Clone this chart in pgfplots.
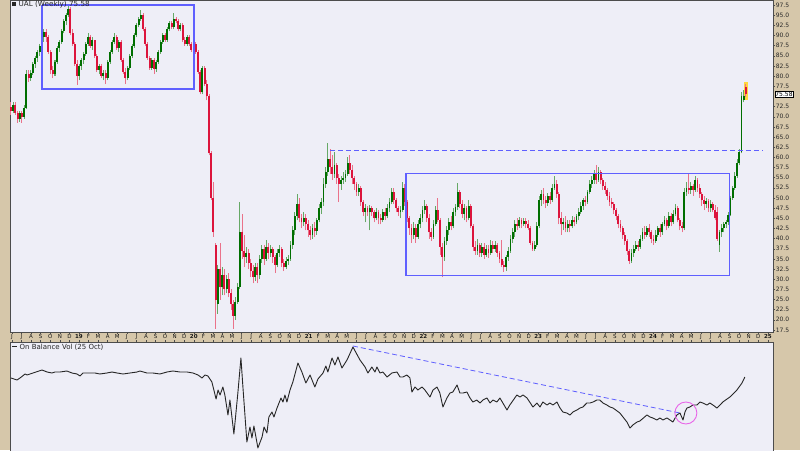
\documentclass[border=0pt]{standalone}
\usepackage{pgfplots}
\pgfplotsset{compat=1.18}
\usepackage{pgfplotstable}
\usepackage{fontspec}
\setmainfont{DejaVu Sans}
\definecolor{beige}{RGB}{214,199,170}
\definecolor{panel}{RGB}{238,238,247}
\definecolor{upc}{RGB}{0,110,0}
\definecolor{dnc}{RGB}{220,20,60}
\definecolor{boxc}{RGB}{95,95,255}
\definecolor{circc}{RGB}{232,100,232}
\definecolor{glow}{RGB}{255,215,60}

\pgfplotstableread{
i o h l c
0 72.5 73.5 70.5 71.5
1 71.5 73.5 71.0 72.8
2 72.8 73.5 70.5 71.0
3 71.0 71.5 68.5 69.5
4 69.5 71.5 68.8 70.8
5 70.8 71.5 68.5 70.0
6 70.0 72.8 69.5 72.2
7 72.2 81.5 72.0 80.5
8 80.5 81.5 78.5 79.5
9 79.5 81.5 78.8 80.8
10 80.8 83.5 80.2 83.0
11 83.0 85.0 82.0 84.5
12 84.5 86.5 83.5 86.0
13 86.0 88.0 85.0 87.5
14 87.5 90.5 87.0 89.5
15 89.5 91.5 88.5 90.8
16 90.8 91.5 88.5 89.5
17 89.5 90.0 85.5 86.0
18 86.0 86.5 80.5 81.5
19 81.5 82.5 79.5 80.5
20 80.5 84.0 80.0 83.5
21 83.5 87.5 83.0 87.0
22 87.0 89.0 86.0 88.5
23 88.5 91.5 88.0 91.0
24 91.0 94.0 90.5 93.5
25 93.5 95.5 92.5 95.0
26 95.0 97.8 94.5 96.5
27 96.5 97.0 90.0 90.5
28 90.5 91.5 87.5 88.0
29 88.0 88.5 82.5 83.0
30 83.0 84.0 77.8 80.0
31 80.0 83.0 79.0 82.5
32 82.5 84.5 81.5 84.0
33 84.0 86.0 83.0 85.5
34 85.5 88.5 85.0 88.0
35 88.0 90.5 87.5 89.5
36 89.5 90.0 87.0 87.5
37 87.5 89.5 86.5 88.8
38 88.8 89.0 84.5 85.0
39 85.0 85.5 81.0 81.5
40 81.5 83.0 80.5 82.5
41 82.5 83.0 79.5 80.0
42 80.0 81.5 79.0 80.8
43 80.8 81.5 78.0 79.5
44 79.5 84.0 79.0 83.5
45 83.5 86.5 83.0 86.0
46 86.0 89.0 85.5 88.5
47 88.5 90.5 88.0 89.5
48 89.5 90.0 86.5 87.0
49 87.0 89.0 86.0 88.5
50 88.5 89.0 83.5 84.0
51 84.0 84.5 80.5 81.0
52 81.0 82.0 78.0 79.5
53 79.5 82.5 79.0 82.0
54 82.0 85.5 81.5 85.0
55 85.0 88.0 84.5 87.5
56 87.5 90.5 87.0 90.0
57 90.0 93.0 89.5 92.5
58 92.5 94.5 92.0 94.0
59 94.0 96.2 93.5 95.0
60 95.0 95.5 91.0 91.5
61 91.5 92.0 87.5 88.0
62 88.0 88.5 84.0 84.5
63 84.5 85.0 81.5 82.0
64 82.0 84.5 81.5 84.0
65 84.0 84.5 80.5 81.8
66 81.8 84.0 81.0 83.5
67 83.5 86.5 83.0 86.0
68 86.0 89.0 85.5 88.5
69 88.5 90.5 88.0 90.0
70 90.0 90.5 88.5 89.0
71 89.0 92.0 88.5 91.5
72 91.5 93.5 91.0 93.0
73 93.0 93.5 91.5 92.0
74 92.0 95.5 91.5 94.0
75 94.0 94.5 93.0 93.5
76 93.5 94.0 91.0 91.5
77 91.5 93.0 91.0 92.5
78 92.5 93.0 88.5 89.0
79 89.0 89.5 87.5 88.0
80 88.0 90.0 87.5 89.5
81 89.5 90.0 87.5 88.0
82 88.0 88.5 86.0 86.5
83 86.5 88.5 86.0 88.0
84 88.0 88.5 85.5 86.0
85 86.0 86.5 80.5 81.0
86 81.0 81.5 75.5 76.0
87 76.0 82.5 75.5 82.0
88 82.0 82.5 77.5 78.0
89 78.0 79.0 74.0 75.0
90 75.0 75.5 60.5 61.0
91 61.0 61.5 49.5 50.0
92 50.0 54.0 40.5 41.5
93 38.5 39.0 17.8 25.0
94 24.0 33.5 21.5 32.5
95 32.5 39.0 25.0 28.0
96 28.0 33.0 26.0 31.0
97 31.0 32.5 26.0 27.5
98 27.5 31.0 26.5 30.0
99 30.0 31.5 25.5 26.5
100 26.5 27.5 22.5 24.0
101 24.0 24.8 17.8 21.0
102 21.0 25.5 20.0 24.5
103 24.5 29.0 24.0 28.0
104 28.0 49.0 27.5 41.5
105 41.5 46.0 35.0 37.0
106 37.0 41.0 33.0 35.5
107 35.5 38.0 34.0 36.5
108 36.5 37.5 32.5 34.0
109 34.0 35.0 30.5 32.0
110 32.0 33.5 29.0 30.5
111 30.5 34.0 29.5 33.0
112 33.0 34.0 29.0 31.0
113 31.0 36.0 30.0 35.0
114 35.0 38.5 34.0 37.5
115 37.5 38.5 33.5 35.0
116 35.0 39.7 34.5 38.0
117 38.0 39.0 35.0 36.5
118 36.5 38.5 35.5 37.5
119 37.5 38.0 34.0 35.5
120 35.5 36.0 31.5 33.5
121 33.5 37.5 33.0 36.5
122 36.5 38.5 35.5 37.5
123 37.5 38.0 33.0 34.0
124 34.0 35.0 32.0 33.0
125 33.0 35.5 32.5 34.5
126 34.5 36.0 33.5 35.0
127 35.0 39.5 34.5 38.5
128 38.5 43.0 37.5 42.0
129 42.0 46.5 41.0 45.5
130 45.5 51.0 44.5 48.5
131 48.5 50.0 44.0 45.0
132 45.0 46.0 42.5 44.0
133 44.0 46.5 43.0 45.0
134 45.0 46.0 42.0 43.5
135 43.5 44.5 40.5 42.0
136 42.0 43.0 39.7 41.0
137 41.0 43.5 40.0 42.5
138 42.5 44.0 40.5 41.8
139 41.8 45.0 41.0 44.5
140 44.5 48.5 44.0 47.5
141 47.5 50.0 46.0 49.0
142 49.0 55.0 48.0 53.5
143 53.5 57.5 52.5 56.5
144 56.5 63.5 55.5 59.5
145 59.5 62.0 56.0 57.5
146 57.5 60.5 54.5 56.0
147 56.0 61.3 55.0 58.0
148 58.0 58.5 53.5 55.0
149 55.0 56.0 49.0 53.5
150 53.5 55.5 52.0 54.5
151 54.5 56.5 53.5 55.0
152 55.0 57.0 54.0 56.0
153 56.0 60.0 55.5 58.5
154 58.5 60.5 56.0 57.0
155 57.0 58.0 53.5 55.0
156 55.0 55.5 52.0 53.5
157 53.5 54.0 50.5 51.5
158 51.5 53.5 50.5 52.5
159 52.5 53.0 48.0 49.0
160 49.0 49.5 45.5 46.5
161 46.5 48.5 44.0 47.5
162 47.5 48.0 45.5 46.5
163 46.5 48.2 42.0 47.5
164 47.5 48.0 45.5 46.5
165 46.5 47.0 44.0 45.0
166 45.0 47.5 44.5 46.5
167 46.5 47.0 43.5 45.0
168 45.0 46.0 43.5 44.6
169 44.6 47.2 44.0 46.5
170 46.5 47.5 44.5 45.5
171 45.5 48.5 45.0 47.5
172 47.5 50.0 46.5 49.0
173 49.0 52.5 48.5 51.5
174 51.5 52.5 48.5 49.5
175 49.5 50.0 46.5 47.5
176 47.5 48.0 45.5 46.5
177 46.5 48.0 45.0 47.0
178 47.0 54.0 46.5 52.5
179 52.5 53.5 48.0 49.0
180 49.0 49.5 44.0 45.0
181 45.0 45.5 41.0 42.5
182 42.5 43.5 39.0 41.0
183 41.0 44.0 40.0 42.5
184 42.5 43.5 39.0 40.5
185 40.5 44.5 40.0 43.5
186 43.5 46.0 42.5 45.0
187 45.0 48.0 44.0 47.0
188 47.0 49.5 46.0 48.0
189 48.0 48.5 44.0 45.0
190 45.0 46.0 40.0 41.5
191 41.5 42.5 39.5 40.5
192 40.5 44.5 40.0 43.5
193 43.5 48.0 43.0 47.0
194 47.0 50.0 44.0 44.5
195 44.5 45.0 36.0 38.0
196 38.0 39.0 30.5 35.5
197 35.5 40.5 34.5 39.5
198 39.5 43.0 38.5 42.0
199 42.0 45.0 41.0 44.0
200 44.0 45.5 42.0 43.0
201 43.0 47.5 42.5 46.5
202 46.5 48.5 45.5 47.8
203 47.8 53.7 47.0 51.5
204 51.5 52.0 47.5 48.5
205 48.5 49.5 45.0 46.0
206 46.0 48.5 44.5 47.5
207 47.5 48.0 44.0 45.0
208 45.0 49.5 44.5 48.0
209 48.0 48.5 42.5 43.0
210 43.0 43.5 37.0 38.0
211 38.0 39.5 36.0 37.0
212 37.0 40.0 36.0 38.5
213 38.5 39.0 35.5 36.5
214 36.5 39.0 35.5 38.0
215 38.0 38.8 35.0 36.0
216 36.0 38.5 35.5 37.5
217 37.5 38.5 35.2 36.5
218 36.5 39.7 36.0 38.5
219 38.5 39.5 36.5 37.5
220 37.5 39.5 36.8 38.5
221 38.5 39.0 35.5 36.5
222 36.5 37.0 34.0 35.0
223 35.0 39.7 33.0 33.5
224 33.5 34.5 31.8 33.0
225 33.0 36.0 32.0 35.5
226 35.5 38.0 34.5 37.0
227 37.0 40.8 36.5 40.0
228 40.0 42.5 39.0 41.5
229 41.5 44.5 40.5 43.5
230 43.5 45.0 42.0 43.0
231 43.0 45.2 42.5 44.5
232 44.5 45.0 42.5 43.5
233 43.5 45.0 43.0 44.3
234 44.3 45.0 42.5 43.5
235 43.5 44.5 42.0 42.5
236 42.5 43.0 38.5 39.0
237 39.0 39.5 37.0 37.5
238 37.5 39.5 37.0 38.5
239 38.5 44.0 38.0 43.0
240 43.0 50.5 42.5 49.5
241 49.5 52.0 48.0 51.0
242 51.0 52.5 48.5 49.5
243 49.5 50.5 47.5 48.8
244 48.8 51.2 48.0 50.5
245 50.5 51.5 48.5 49.5
246 49.5 53.5 49.0 52.5
247 52.5 55.5 52.0 53.5
248 53.5 54.5 50.0 51.0
249 51.0 51.5 43.5 45.0
250 45.0 46.5 41.0 43.5
251 43.5 45.0 42.0 44.0
252 44.0 45.5 41.5 42.5
253 42.5 44.5 41.5 43.5
254 43.5 44.5 41.5 43.0
255 43.0 45.5 42.5 44.5
256 44.5 45.2 43.0 44.0
257 44.0 46.0 43.5 45.5
258 45.5 47.5 44.5 46.5
259 46.5 49.0 46.0 48.0
260 48.0 50.0 47.0 49.5
261 49.5 50.5 48.0 49.0
262 49.0 52.0 48.5 51.5
263 51.5 54.5 51.0 53.5
264 53.5 55.5 52.5 54.5
265 54.5 57.0 53.5 56.0
266 56.0 58.1 53.5 54.5
267 54.5 57.5 54.0 56.5
268 56.5 57.0 53.5 54.5
269 54.5 55.0 52.0 53.0
270 53.0 54.0 51.0 52.0
271 52.0 52.5 49.5 50.5
272 50.5 51.5 48.0 49.0
273 49.0 50.0 47.5 48.5
274 48.5 49.0 46.0 47.0
275 47.0 47.5 44.5 45.5
276 45.5 46.0 42.5 43.5
277 43.5 44.5 41.5 42.5
278 42.5 43.0 40.0 41.0
279 41.0 41.5 38.5 39.5
280 39.5 40.0 36.0 37.0
281 37.0 37.5 33.8 34.5
282 34.5 37.5 34.0 36.5
283 36.5 38.5 35.5 37.5
284 37.5 39.5 37.0 38.5
285 38.5 39.5 37.0 38.0
286 38.0 41.0 37.5 40.0
287 40.0 42.5 39.5 41.5
288 41.5 43.0 40.0 41.0
289 41.0 43.0 40.5 42.5
290 42.5 43.5 40.5 41.5
291 41.5 42.0 38.9 40.0
292 40.0 41.0 38.5 39.5
293 39.5 42.0 39.0 41.0
294 41.0 43.0 40.5 42.5
295 42.5 43.5 40.5 41.5
296 41.5 44.0 41.0 43.5
297 43.5 45.5 43.0 44.5
298 44.5 45.0 42.0 43.0
299 43.0 46.5 42.5 45.5
300 45.5 46.3 43.0 44.0
301 44.0 47.0 43.5 46.0
302 46.0 48.5 45.5 47.5
303 47.5 48.0 44.0 44.5
304 44.5 45.0 42.0 43.0
305 43.0 44.0 41.5 42.5
306 42.5 52.5 42.0 51.5
307 51.5 54.0 50.5 52.5
308 52.5 56.0 51.0 52.0
309 52.0 54.0 51.0 53.0
310 53.0 53.5 50.5 52.0
311 52.0 55.5 51.5 54.5
312 54.5 55.0 51.5 52.5
313 52.5 53.5 50.0 51.0
314 51.0 51.5 48.0 49.5
315 49.5 50.5 47.0 48.5
316 48.5 50.0 47.5 49.3
317 49.3 49.8 46.5 47.5
318 47.5 49.5 46.5 48.5
319 48.5 49.0 46.5 47.0
320 47.0 48.3 44.5 45.0
321 46.5 47.8 39.5 40.0
322 38.5 42.0 36.7 41.5
323 41.5 43.5 40.5 42.5
324 42.5 44.0 41.5 43.5
325 43.5 44.5 42.5 44.0
326 44.0 46.5 43.4 45.8
327 45.8 50.5 45.5 50.0
328 50.0 53.0 49.5 52.5
329 52.5 56.5 52.0 55.5
330 55.5 59.5 55.0 58.5
331 58.5 62.0 58.0 61.3
332 61.3 76.0 61.0 75.0
333 74.0 76.5 73.5 75.2
334 77.2 78.0 74.8 75.58
}\candles

\pgfplotstableread{
i v
0 74
2.7 72
4.1 74
6.4 78
7.3 77
10.0 79
14.1 82
16.4 80
18.6 79
20.0 80
22.3 80
25.4 81
27.7 79
30.0 78
31.4 76
32.7 79
35.9 79
38.2 79
40.4 78
43.6 79
45.9 80
48.2 79
50.9 78
54.1 79
57.3 80
58.6 81
61.8 79
64.5 79
67.7 78
70.9 80
73.6 81
76.8 80
80.0 80
82.7 79
85.0 77
86.8 74
88.2 77
89.5 76
91.3 70
93.2 53
94.1 62
95.0 57
96.3 65
97.2 57
98.6 37
99.5 52
101.3 18
103.1 59
104.5 94
105.4 65
107.2 10
108.6 25
109.5 14
110.4 26
111.8 9
112.2 4
114.1 15
115.0 25
116.3 19
117.2 35
118.6 40
119.5 35
120.9 44
121.8 49
122.7 54
123.6 50
124.5 57
125.4 50
126.8 62
128.1 70
130.4 89
132.2 80
134.0 69
135.9 77
138.1 65
139.5 73
141.8 79
143.1 86
144.0 80
145.9 94
147.2 87
148.6 95
150.4 84
152.7 92
155.4 105
158.6 92
160.9 85
162.2 79
164.0 85
165.4 80
166.3 85
167.7 79
169.0 80
170.9 75
173.1 79
175.4 80
176.8 75
178.1 75
179.9 77
181.3 74
182.2 60
183.6 65
184.9 62
186.8 65
188.1 62
190.4 55
191.8 62
193.6 65
194.9 59
196.3 45
198.1 54
199.5 59
200.8 60
202.7 67
204.0 59
205.4 59
207.2 60
208.6 54
209.9 50
211.7 52
213.1 49
214.5 52
216.3 54
217.7 49
219.0 52
220.8 50
222.2 54
225.4 42
226.7 47
229.9 57
231.3 55
232.7 57
234.5 54
237.2 45
239.0 49
240.4 45
241.7 50
243.6 47
244.9 49
246.3 47
248.1 50
249.5 44
250.8 40
252.6 39
254.0 37
255.4 40
257.2 42
258.6 44
259.9 45
261.7 49
263.1 49
264.5 50
266.3 52
267.6 52
269.0 49
270.8 47
272.2 45
273.6 44
276.7 39
279.9 30
281.3 24
282.6 27
284.5 30
285.8 31
289.0 37
290.4 35
291.7 34
293.5 32
294.9 34
296.3 32
298.1 34
299.5 32
300.8 30
302.6 37
304.0 39
305.4 32
306.3 40
307.2 44
308.5 45
309.9 47
311.7 47
313.1 50
314.4 49
316.3 47
317.6 49
319.0 47
320.8 44
322.2 47
323.5 50
326.7 55
329.9 62
332.2 69
333.5 75
}\obv

\begin{document}
\begin{tikzpicture}
\fill[beige] (0pt,0pt) rectangle (800pt,450pt);

\begin{axis}[
  at={(10pt,118pt)}, anchor=south west,
  width=763pt, height=332pt, scale only axis,
  xmin=-0.45, xmax=346.3, ymin=17.0, ymax=98.73,
  axis background/.style={fill=panel},
  axis line style={black!70, line width=0.5pt},
  tick align=outside, major tick length=2pt,
  tick style={black!70, line width=0.4pt},
  ytick={17.5,20,...,72.5,77.5,80,...,97.5}, ytick pos=right, yticklabel pos=right,
  yticklabel style={font=\fontsize{6}{6}\selectfont, inner sep=0.6pt, text=black!85,
    /pgf/number format/fixed, /pgf/number format/fixed zerofill,
    /pgf/number format/precision=1, /pgf/number format/assume math mode=true},
  xtick={0.454,4.802,...,344.5}, xtick pos=bottom,
  xticklabels={J,J,A,S,O,N,D,\textbf{19},F,M,A,M,J,J,A,S,O,N,D,\textbf{20},F,M,A,M,J,J,A,S,O,N,D,\textbf{21},F,M,A,M,J,J,A,S,O,N,D,\textbf{22},F,M,A,M,J,J,A,S,O,N,D,\textbf{23},F,M,A,M,J,J,A,S,O,N,D,\textbf{24},F,M,A,M,J,J,A,S,O,N,D,\textbf{25}},
  xticklabel style={font=\fontsize{5.5}{5.5}\selectfont, inner sep=0.6pt, text=black!90},
]
% highlight of last bar
\addplot[draw=none, mark=none, forget plot, error bars/.cd, y dir=plus, y explicit, error mark=none,
  error bar style={draw=glow, line width=4pt}] coordinates {(334,74.2) +- (0,4.4)};
% wicks
\addplot[draw=none, mark=none, forget plot, error bars/.cd, y dir=plus, y explicit, error mark=none,
  error bar style={draw=upc!60, line width=1pt}]
  table[x=i, y expr={\thisrow{c}>\thisrow{o} ? \thisrow{l} : nan}, y error plus expr={\thisrow{h}-\thisrow{l}}] {\candles};
\addplot[draw=none, mark=none, forget plot, error bars/.cd, y dir=plus, y explicit, error mark=none,
  error bar style={draw=dnc!60, line width=1pt}]
  table[x=i, y expr={\thisrow{c}<\thisrow{o} ? \thisrow{l} : nan}, y error plus expr={\thisrow{h}-\thisrow{l}}] {\candles};
% bodies
\addplot[draw=none, mark=none, forget plot, error bars/.cd, y dir=plus, y explicit, error mark=none,
  error bar style={draw=upc, line width=1.9pt}]
  table[x=i, y expr={\thisrow{c}>\thisrow{o} ? \thisrow{o} : nan}, y error plus expr={\thisrow{c}-\thisrow{o}}] {\candles};
\addplot[draw=none, mark=none, forget plot, error bars/.cd, y dir=plus, y explicit, error mark=none,
  error bar style={draw=dnc, line width=1.9pt}]
  table[x=i, y expr={\thisrow{c}<\thisrow{o} ? \thisrow{c} : nan}, y error plus expr={\thisrow{o}-\thisrow{c}}] {\candles};
% annotations
\addplot[draw=boxc, line width=1.2pt, mark=none, forget plot] coordinates {(14.1,97.5) (83.2,97.5) (83.2,76.8) (14.1,76.8) (14.1,97.5)};
\addplot[draw=boxc, line width=1.2pt, mark=none, forget plot] coordinates {(179.5,56.1) (326.7,56.1) (326.7,31.0) (179.5,31.0) (179.5,56.1)};
\addplot[draw=boxc, line width=0.8pt, mark=none, dash pattern=on 5pt off 3pt, forget plot] coordinates {(145.0,61.6) (341.7,61.6)};
\coordinate (lastp) at (axis cs:346.3,75.58);
\end{axis}

\begin{axis}[
  at={(10pt,-2pt)}, anchor=south west,
  width=763pt, height=110pt, scale only axis,
  xmin=-0.45, xmax=346.3, ymin=0, ymax=110,
  axis background/.style={fill=panel},
  axis line style={black!70, line width=0.5pt},
  tick align=outside, major tick length=2pt,
  tick style={black!70, line width=0.4pt},
  ytick=\empty,
  xtick={0.454,4.802,...,344.5}, xtick pos=top, xticklabels={},
]
\addplot[draw=black!85, line width=0.9pt, line join=round, mark=none] table[x=i, y=v] {\obv};
\addplot[draw=boxc, line width=0.8pt, dash pattern=on 5pt off 3pt, mark=none] coordinates {(155.4,106) (304.0,39)};
\addplot[only marks, mark=o, mark size=11pt, draw=circc, mark options={line width=0.9pt, draw=circc}] coordinates {(306.7,39)};
\end{axis}

\node[anchor=west, draw=black, fill=white, line width=0.4pt, inner sep=0.7pt,
  font=\fontsize{6}{6}\selectfont] at ([xshift=1.5pt]lastp) {75.58};
\node[anchor=west, inner sep=0pt, text=black!85, font=\fontsize{7.2}{8}\selectfont]
  at (12pt,445.5pt) {\rule[0.3pt]{4pt}{4pt}\hspace{2.5pt}UAL (Weekly) 75.58};
\node[anchor=west, inner sep=0pt, text=black!85, font=\fontsize{7}{8}\selectfont]
  at (12pt,103pt) {\rule[2pt]{5pt}{1.2pt}\hspace{2.5pt}On Balance Vol (25 Oct)};
\pgfresetboundingbox
\useasboundingbox (0pt,0pt) rectangle (800pt,450pt);
\end{tikzpicture}
\end{document}
